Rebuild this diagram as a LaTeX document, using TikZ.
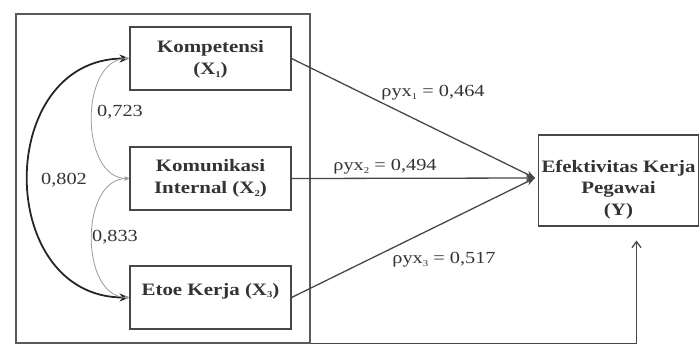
\documentclass[tikz,border=0pt]{standalone}
\usepackage{fontspec}
\setmainfont{Liberation Serif}[FakeStretch=1.2]
\usetikzlibrary{arrows.meta,positioning,calc}
\definecolor{inkdark}{HTML}{333333}
\definecolor{linegray}{HTML}{474747}
\definecolor{softgray}{HTML}{9A9A9A}
\newcommand{\lowidx}[1]{\raisebox{-0.3ex}{\fontsize{9}{9}\selectfont#1}}

\begin{document}
\begin{tikzpicture}[
  x=1bp, y=-1bp,
  >=Stealth,
  varbox/.style={
    draw=linegray,
    line width=1.1pt,
    minimum width=161bp,
    minimum height=63bp,
    inner sep=2pt,
    align=center,
    text=inkdark,
    font=\fontsize{17.5}{22}\selectfont\bfseries
  },
  groupframe/.style={
    draw=linegray!90,
    line width=1.6pt,
    minimum width=294bp,
    minimum height=329bp,
    inner sep=0pt
  },
  coef/.style={
    text=inkdark,
    inner sep=1pt,
    font=\fontsize{17}{20}\selectfont
  },
  pathline/.style={
    ->, draw=linegray, line width=1.3pt,
    >={Stealth[length=9bp,width=7bp]}
  },
  corrthick/.style={
    <->, draw=black!85, line width=1.8pt,
    >={Stealth[length=10bp,width=8bp]}
  },
  corrthin/.style={
    <->, draw=softgray, line width=0.8pt,
    >={Stealth[length=5bp,width=4bp]}
  }
]
  \useasboundingbox (0,0) rectangle (700,345);

  % --- exogenous variables inside the frame ---
  \node[groupframe] (grp) at (163,178.5) {};
  \node[varbox, text height=36bp] (x1) at (210.5,58.5) {Kompetensi\\(X\lowidx{1})};
  \node[varbox] (x2) at (210.5,178.5) {Komunikasi\\Internal (X\lowidx{2})};
  \node[varbox, text depth=17bp] (x3) at (210.5,297.5) {Etoe Kerja (X\lowidx{3})};

  % --- endogenous variable ---
  \node[varbox, minimum width=160bp, minimum height=91bp, font=\fontsize{17.5}{21.5}\selectfont\bfseries, text height=73bp] (y) at (618.5,180.5)
    {Efektivitas Kerja\\Pegawai\\(Y)};
  \coordinate (meet) at (535,178);

  % --- path coefficients ---
  \draw[pathline] (x1.east) -- (meet);
  \draw[pathline] (x2.east) -- (meet);
  \draw[pathline] (x3.east) -- (meet);
  \node[coef] (p1) at (433,93) {ρyx\lowidx{1} = 0,464};
  \node[coef] (p2) at (385,167) {ρyx\lowidx{2} = 0,494};
  \node[coef] (p3) at (444,260) {ρyx\lowidx{3} = 0,517};

  % --- correlations between the X's ---
  \draw[corrthick] (x3.west) .. controls +(-135,0) and +(-135,0) .. (x1.west);
  \draw[corrthin] (x1.west) .. controls +(-50,0) and +(-50,0) .. (x2.west);
  \draw[corrthin] (x2.west) .. controls +(-50,0) and +(-50,0) .. (x3.west);
  \node[coef] (r12) at (120,112) {0,723};
  \node[coef] (r23) at (115,237) {0,833};
  \node[coef] (r13) at (64,180) {0,802};

  % residual arrow from below
  \draw[->, draw=linegray, line width=1.3pt, >={Straight Barb[length=6bp,width=9bp]}]
    (grp.south east) -| ([xshift=18bp,yshift=-14bp]y.south);

\end{tikzpicture}
\end{document}
